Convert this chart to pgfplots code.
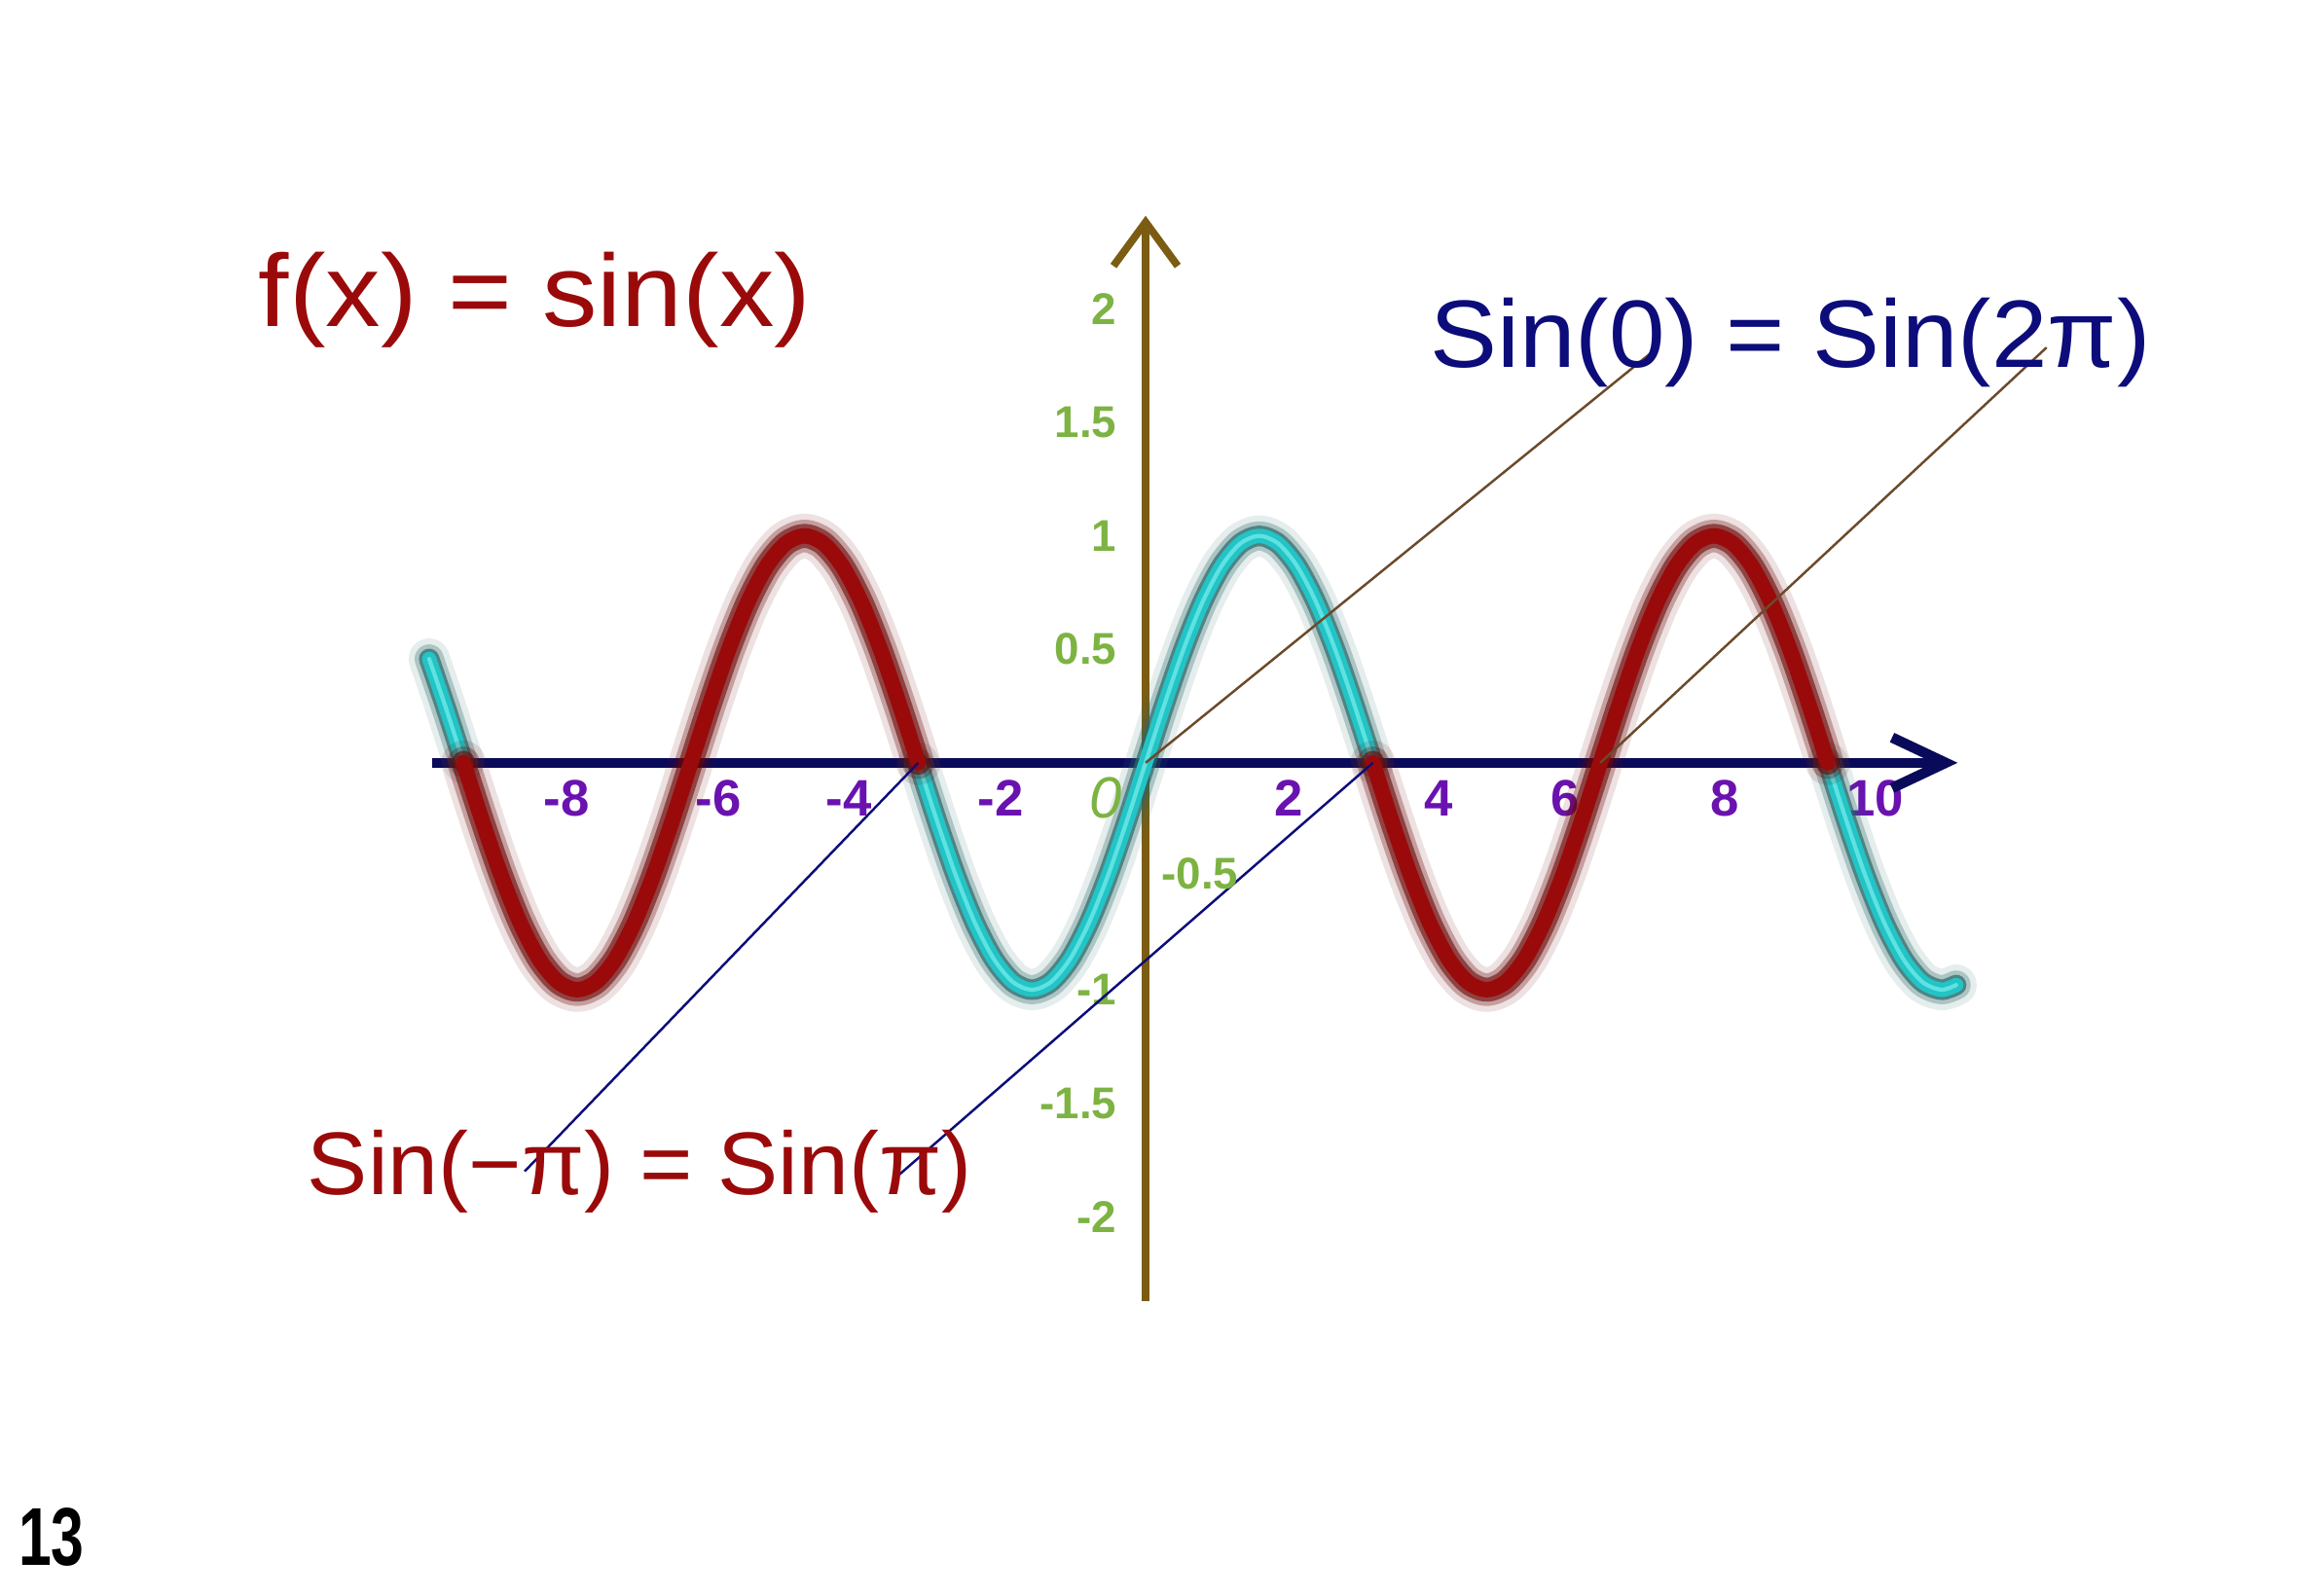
\documentclass[border=0pt]{standalone}
\usepackage{pgfplots}
\pgfplotsset{compat=1.18}
\usepackage{pgfplotstable}
\usepackage{fontspec}
\setmainfont{Liberation Sans}
\usetikzlibrary{arrows.meta}
\definecolor{cred}{HTML}{9A0A0A}
\definecolor{cdred}{HTML}{6A0505}
\definecolor{ccyan}{HTML}{22C4C6}
\definecolor{chigh}{HTML}{5FE2E2}
\definecolor{cteal}{HTML}{2A6868}
\definecolor{cnavy}{HTML}{0C0C7A}
\definecolor{caxis}{HTML}{0A0A5A}
\definecolor{cbrown}{HTML}{7B5C12}
\definecolor{cgreen}{HTML}{7CB342}
\definecolor{cpurple}{HTML}{6A12B0}
\definecolor{cline}{HTML}{6B4A2A}

\pgfplotstableread{
x y
-9.9 0.4577
-9.6866 0.2588
-9.4248 0
}\segA
\pgfplotstableread{
x y
-9.4248 0
-9.1630 -0.2588
-8.9012 -0.5
-8.6394 -0.7071
-8.3776 -0.8660
-8.1158 -0.9659
-7.8540 -1
-7.5922 -0.9659
-7.3304 -0.8660
-7.0686 -0.7071
-6.8068 -0.5
-6.5450 -0.2588
-6.2832 0
-6.0214 0.2588
-5.7596 0.5
-5.4978 0.7071
-5.2360 0.8660
-4.9742 0.9659
-4.7124 1
-4.4506 0.9659
-4.1888 0.8660
-3.9270 0.7071
-3.6652 0.5
-3.4034 0.2588
-3.1416 0
}\segB
\pgfplotstableread{
x y
-3.1416 0
-2.8798 -0.2588
-2.6180 -0.5
-2.3562 -0.7071
-2.0944 -0.8660
-1.8326 -0.9659
-1.5708 -1
-1.3090 -0.9659
-1.0472 -0.8660
-0.7854 -0.7071
-0.5236 -0.5
-0.2618 -0.2588
0 0
0.2618 0.2588
0.5236 0.5
0.7854 0.7071
1.0472 0.8660
1.3090 0.9659
1.5708 1
1.8326 0.9659
2.0944 0.8660
2.3562 0.7071
2.6180 0.5
2.8798 0.2588
3.1416 0
}\segC
\pgfplotstableread{
x y
3.1416 0
3.4034 -0.2588
3.6652 -0.5
3.9270 -0.7071
4.1888 -0.8660
4.4506 -0.9659
4.7124 -1
4.9742 -0.9659
5.2360 -0.8660
5.4978 -0.7071
5.7596 -0.5
6.0214 -0.2588
6.2832 0
6.5450 0.2588
6.8068 0.5
7.0686 0.7071
7.3304 0.8660
7.5922 0.9659
7.8540 1
8.1158 0.9659
8.3776 0.8660
8.6394 0.7071
8.9012 0.5
9.1630 0.2588
9.4248 0
}\segD
\pgfplotstableread{
x y
9.4248 0
9.6866 -0.2588
9.9484 -0.5
10.2102 -0.7071
10.4720 -0.8660
10.7338 -0.9659
10.9956 -1
11.2 -0.9790
}\segE

\pgfplotsset{
  base/.style={no marks, smooth, line cap=round, line join=round},
  rglowA/.style={base, cdred, opacity=0.12, line width=13pt},
  rglowB/.style={base, cdred, opacity=0.3, line width=9.5pt},
  rglowC/.style={base, cdred, opacity=0.6, line width=7pt},
  rcore/.style={base, cred, line width=4.5pt},
  cglowA/.style={base, cteal, opacity=0.12, line width=12pt},
  cglowB/.style={base, cteal, opacity=0.3, line width=8.5pt},
  cglowC/.style={base, cteal, opacity=0.7, line width=6pt},
  ccore/.style={base, ccyan, line width=4.2pt},
  chl/.style={base, chigh, line width=1.2pt},
}

\begin{document}
\begin{tikzpicture}
\begin{axis}[
  name=main,
  scale only axis, width=23.6cm, height=16.4cm,
  xmin=-15.83, xmax=15.91, ymin=-3.671, ymax=3.361,
  axis lines=middle, axis line style={draw=none, -},
  major tick style={draw=none},
  clip=false,
  xtick={-8,-5.9,-4.1,-2,1.98,4.05,5.8,8,10.08},
  xticklabels={-8,-6,-4,-2,2,4,6,8,10},
  ytick={-2,-1.5,-1,0.5,1,1.5,2},
  yticklabels={-2,-1.5,-1,0.5,1,1.5,2},
  xticklabel style={anchor=center, yshift=-0.29cm, text=cpurple, font=\bfseries\fontsize{15}{16}\selectfont},
  yticklabel style={anchor=east, xshift=-0.1cm, text=cgreen, font=\bfseries\fontsize{13}{14}\selectfont},
]
\path (rel axis cs:0,0) rectangle (rel axis cs:1,1);

% axes
\draw[cbrown, line width=2.2pt, -{Straight Barb[length=0.45cm, width=0.66cm, line width=2.2pt]}] (axis cs:0,-2.37) -- (axis cs:0,2.41);
\draw[caxis, line width=2.8pt, -{Straight Barb[length=0.55cm, width=0.52cm, line width=3pt]}] (axis cs:-9.86,0) -- (axis cs:11.22,0);

% curve: cyan segments
\addplot[cglowA] table[x=x,y=y] {\segA};
\addplot[cglowB] table[x=x,y=y] {\segA};
\addplot[cglowC] table[x=x,y=y] {\segA};
\addplot[ccore] table[x=x,y=y] {\segA};
\addplot[chl] table[x=x,y=y] {\segA};
\addplot[cglowA] table[x=x,y=y] {\segC};
\addplot[cglowB] table[x=x,y=y] {\segC};
\addplot[cglowC] table[x=x,y=y] {\segC};
\addplot[ccore] table[x=x,y=y] {\segC};
\addplot[chl] table[x=x,y=y] {\segC};
\addplot[cglowA] table[x=x,y=y] {\segE};
\addplot[cglowB] table[x=x,y=y] {\segE};
\addplot[cglowC] table[x=x,y=y] {\segE};
\addplot[ccore] table[x=x,y=y] {\segE};
\addplot[chl] table[x=x,y=y] {\segE};
% curve: red segments
\addplot[rglowA] table[x=x,y=y] {\segB};
\addplot[rglowB] table[x=x,y=y] {\segB};
\addplot[rglowC] table[x=x,y=y] {\segB};
\addplot[rcore] table[x=x,y=y] {\segB};
\addplot[rglowA] table[x=x,y=y] {\segD};
\addplot[rglowB] table[x=x,y=y] {\segD};
\addplot[rglowC] table[x=x,y=y] {\segD};
\addplot[rcore] table[x=x,y=y] {\segD};

% pointer lines
\addplot[cline, line width=0.7pt, no marks] coordinates {(0,0) (7.0,1.81)};
\addplot[cline, line width=0.7pt, no marks] coordinates {(6.2832,0) (12.45,1.83)};
\addplot[cnavy, line width=0.7pt, no marks] coordinates {(-3.1416,0) (-8.58,-1.80)};
\addplot[cnavy, line width=0.7pt, no marks] coordinates {(3.1416,0) (-3.46,-1.83)};

% extra labels
\node[text=cgreen, font=\fontsize{17}{18}\selectfont\itshape] at (axis cs:-0.55,-0.155) {0};
\node[text=cgreen, font=\bfseries\fontsize{13}{14}\selectfont] at (axis cs:0.75,-0.49) {-0.5};

% texts
\node[text=cred, font=\fontsize{30}{32}\selectfont] at (axis cs:-8.44,2.04) {\scalebox{1.07}[1]{f(x) = sin(x)}};
\node[text=cnavy, font=\fontsize{28}{30}\selectfont] at (axis cs:8.91,1.85) {\scalebox{1.05}[1]{Sin(0) = Sin(2π)}};
\node[text=cred, font=\fontsize{26}{28}\selectfont] at (axis cs:-6.99,-1.80) {\scalebox{1.02}[1]{Sin(−π) = Sin(π)}};
\node[text=black, font=\bfseries\fontsize{24}{26}\selectfont] at (axis cs:-15.12,-3.41) {\scalebox{0.72}[1]{13}};
\end{axis}
\pgfresetboundingbox
\path (main.south west) rectangle (main.north east);
\end{tikzpicture}
\end{document}
